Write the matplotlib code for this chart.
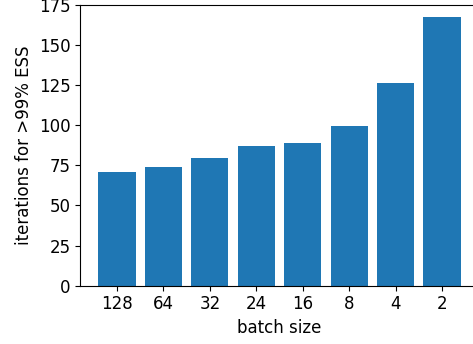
import matplotlib

matplotlib.use("Agg")
import matplotlib.pyplot as plt

batch_sizes = ["128", "64", "32", "24", "16", "8", "4", "2"]
iterations = [71, 74, 79.5, 87, 89, 99.5, 126, 167.5]
y_ticks = [0, 25, 50, 75, 100, 125, 150, 175]

plt.rcParams["font.size"] = 12

W, H = 473, 344
fig = plt.figure(figsize=(W / 100, H / 100), dpi=100)
# the original is cropped on the right, so the right spine falls off the image
left, right, bottom, top = 80.3, 478.7, 285.7, 4.6
ax = fig.add_axes([left / W, 1 - bottom / H, (right - left) / W, (bottom - top) / H])

ax.bar(range(len(batch_sizes)), iterations, width=0.8, color="C0")
ax.set_xticks(range(len(batch_sizes)))
ax.set_xticklabels(batch_sizes)
ax.set_yticks(y_ticks)
ax.set_ylim(0, 175)
ax.spines["right"].set_visible(False)
ax.set_xlabel("batch size")
ax.set_ylabel("iterations for >99% ESS")

fig.savefig("out.png", dpi=100)
